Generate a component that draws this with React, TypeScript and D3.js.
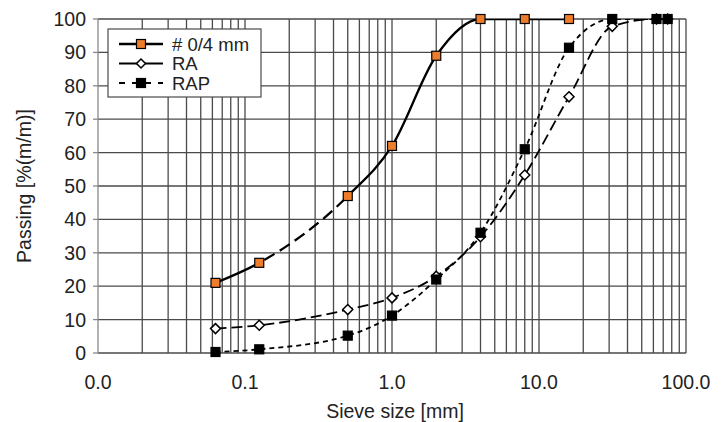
import React from "react";
import * as d3 from "d3";

const sieves = [0.063, 0.125, 0.5, 1, 2, 4, 8, 16, 31.5, 63, 75];
const grading04 = [21, 27, 47, 62, 89, 100, 100, 100];
const gradingRA = [7.3, 8.3, 13, 16.5, 23, 34.8, 53.3, 76.7, 97.8, 100, 100];
const gradingRAP = [0.3, 1.1, 5.2, 11.2, 22, 36, 61, 91.4, 100, 100, 100];
const xTickValues = [0.01, 0.1, 1, 10, 100];
const xTickLabels = ["0.0", "0.1", "1.0", "10.0", "100.0"];
const yTickValues = [0, 10, 20, 30, 40, 50, 60, 70, 80, 90, 100];
const legendLabels = ["# 0/4 mm", "RA", "RAP"];

const W = 726;
const H = 422;
const ORANGE = "#EE7D2B";
const GRID = "#4a4a4a";
const FONT = "'Liberation Sans', Arial, sans-serif";

export default function App() {
  const x = d3.scaleLog().domain([0.01, 100]).range([98, 686]);
  const y = d3.scaleLinear().domain([0, 100]).range([353, 19]);

  const minor: number[] = [];
  [0.01, 0.1, 1, 10].forEach((d) => {
    for (let k = 1; k <= 9; k++) minor.push(d * k);
  });
  minor.push(100);

  const mk = (vals: number[]) => vals.map((v, i) => [sieves[i], v] as [number, number]);
  const line = d3
    .line<[number, number]>()
    .x((d) => x(d[0]))
    .y((d) => y(d[1]))
    .curve(d3.curveMonotoneX);

  const p04 = line(mk(grading04)) || "";
  const pRA = line(mk(gradingRA)) || "";
  const pRAP = line(mk(gradingRAP)) || "";

  const dashX0 = x(sieves[1]);
  const dashX1 = x(sieves[2]);
  const top = y(100);
  const bottom = y(0);

  const sq = (cx: number, cy: number, s: number, fill: string, key: string) => (
    <rect key={key} x={cx - s / 2} y={cy - s / 2} width={s} height={s} fill={fill} stroke="#000" strokeWidth={1.2} />
  );
  const diamond = (cx: number, cy: number, r: number, key: string) => (
    <path
      key={key}
      d={`M${cx},${cy - r}L${cx + r},${cy}L${cx},${cy + r}L${cx - r},${cy}Z`}
      fill="#fff"
      stroke="#000"
      strokeWidth={1.5}
    />
  );

  const legendX = 108;
  const legendY = 29;
  const rowY = [44, 63.5, 83];

  return (
    <div style={{ position: "absolute", left: 0, top: 0 }}>
      <svg width={W} height={H} style={{ display: "block", background: "#fff" }}>
        <defs>
          <clipPath id="clipPlot">
            <rect x={0} y={top} width={W} height={bottom - top + 4} />
          </clipPath>
          <clipPath id="clipSolid">
            <rect x={0} y={top} width={dashX0} height={bottom - top} />
            <rect x={dashX1} y={top} width={W - dashX1} height={bottom - top} />
          </clipPath>
          <clipPath id="clipDash">
            <rect x={dashX0} y={top} width={dashX1 - dashX0} height={bottom - top} />
          </clipPath>
        </defs>
        {/* horizontal grid */}
        {yTickValues.map((v) => (
          <line key={"h" + v} x1={x(0.01)} x2={x(100)} y1={y(v)} y2={y(v)} stroke={GRID} strokeWidth={1.3} />
        ))}
        {/* vertical grid */}
        {minor.map((v, i) => (
          <line
            key={"v" + i}
            x1={x(v)}
            x2={x(v)}
            y1={y(100)}
            y2={y(0)}
            stroke={i === 0 ? "#888" : GRID}
            strokeWidth={1.3}
          />
        ))}
        {/* y ticks */}
        {yTickValues.map((v) => (
          <line key={"yt" + v} x1={x(0.01) - 5} x2={x(0.01)} y1={y(v)} y2={y(v)} stroke="#888" strokeWidth={1.3} />
        ))}
        {/* y tick labels */}
        {yTickValues.map((v) => (
          <text
            key={"yl" + v}
            x={86}
            y={y(v)}
            dy="0.36em"
            textAnchor="end"
            fontFamily={FONT}
            fontSize={19.5}
            fill="#222"
          >
            {v}
          </text>
        ))}
        {/* x tick labels */}
        {xTickValues.map((v, i) => (
          <text key={"xl" + v} x={x(v)} y={389} textAnchor="middle" fontFamily={FONT} fontSize={19.5} fill="#222">
            {xTickLabels[i]}
          </text>
        ))}
        <text x={395} y={418} textAnchor="middle" fontFamily={FONT} fontSize={19.5} fill="#222">
          Sieve size [mm]
        </text>
        <text
          transform={`translate(31,${(y(0) + y(100)) / 2}) rotate(-90)`}
          textAnchor="middle"
          fontFamily={FONT}
          fontSize={19.5}
          fill="#222"
        >
          Passing [%(m/m)]
        </text>

        {/* lines */}
        <path d={pRAP} fill="none" stroke="#000" strokeWidth={1.8} strokeDasharray="5,4" clipPath="url(#clipPlot)" />
        <path d={pRA} fill="none" stroke="#000" strokeWidth={1.8} strokeDasharray="11,5" clipPath="url(#clipPlot)" />
        <path d={p04} fill="none" stroke="#000" strokeWidth={2.3} clipPath="url(#clipSolid)" />
        <path d={p04} fill="none" stroke="#000" strokeWidth={2.3} strokeDasharray="12,6" clipPath="url(#clipDash)" />

        {/* markers */}
        {gradingRA.map((v, i) => diamond(x(sieves[i]), y(v), 5, "ra" + i))}
        {gradingRAP.map((v, i) => sq(x(sieves[i]), y(v), 9, "#000", "rap" + i))}
        {grading04.map((v, i) => sq(x(sieves[i]), y(v), 9, ORANGE, "g" + i))}

        {/* legend */}
        <rect x={legendX} y={legendY} width={153} height={68} fill="#fff" stroke={GRID} strokeWidth={1.2} />
        <line x1={119} x2={163} y1={rowY[0]} y2={rowY[0]} stroke="#000" strokeWidth={2.5} />
        {sq(141, rowY[0], 9, ORANGE, "lg0")}
        <line x1={119} x2={163} y1={rowY[1]} y2={rowY[1]} stroke="#000" strokeWidth={1.8} />
        {diamond(141, rowY[1], 4.5, "lg1")}
        <line x1={119} x2={163} y1={rowY[2]} y2={rowY[2]} stroke="#000" strokeWidth={1.8} strokeDasharray="6,7" />
        {sq(141, rowY[2], 9, "#000", "lg2")}
        {legendLabels.map((t, i) => (
          <text key={"lt" + i} x={172} y={rowY[i]} dy="0.36em" fontFamily={FONT} fontSize={18.5} fill="#222">
            {t}
          </text>
        ))}
      </svg>
    </div>
  );
}
